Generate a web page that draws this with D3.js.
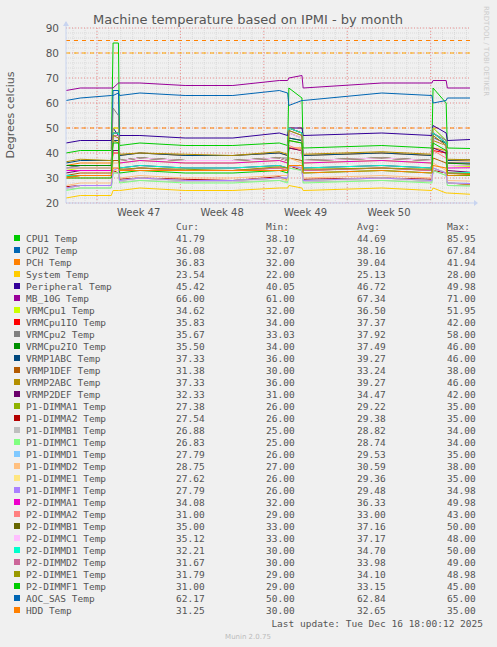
<!DOCTYPE html>
<html>
<head>
<meta charset="utf-8">
<script src="https://cdn.jsdelivr.net/npm/d3@7"></script>
<style>
body { margin: 0; background: #f0f0f0; }
text { font-family: "DejaVu Sans", sans-serif; }
.mono { font-family: "DejaVu Sans Mono", monospace; font-size: 9.5px; fill: #555; }
</style>
</head>
<body>
<script>
// time points in days from left edge of graph
var days = [0,1.2,3.8,3.95,4.4,4.5,6.2,10,14,17.9,18.6,18.7,19.8,19.9,26.5,30.7,30.8,31.9,32.0,33.9];

var names = ["CPU1 Temp","CPU2 Temp","PCH Temp","System Temp","Peripheral Temp","MB_10G Temp",
  "VRMCpu1 Temp","VRMCpu1IO Temp","VRMCpu2 Temp","VRMCpu2IO Temp","VRMP1ABC Temp","VRMP1DEF Temp",
  "VRMP2ABC Temp","VRMP2DEF Temp","P1-DIMMA1 Temp","P1-DIMMA2 Temp","P1-DIMMB1 Temp","P1-DIMMC1 Temp",
  "P1-DIMMD1 Temp","P1-DIMMD2 Temp","P1-DIMME1 Temp","P1-DIMMF1 Temp","P2-DIMMA1 Temp","P2-DIMMA2 Temp",
  "P2-DIMMB1 Temp","P2-DIMMC1 Temp","P2-DIMMD1 Temp","P2-DIMMD2 Temp","P2-DIMME1 Temp","P2-DIMMF1 Temp",
  "AOC_SAS Temp","HDD Temp"];

var colors = ["#00cc00","#0066b3","#ff8000","#ffcc00","#330099","#990099","#ccff00","#ff0000","#808080",
  "#008f00","#00487d","#b35a00","#b38f00","#6b006b","#8fb300","#b30000","#bebebe","#80ff80","#80c9ff",
  "#ffc080","#ffe680","#aa80ff","#ee00cc","#ff8080","#666600","#ffbfff","#00ffcc","#cc6699","#999900",
  "#00cc00","#0066b3","#ff8000"];

var cur = ["41.79","36.08","36.83","23.54","45.42","66.00","34.62","35.83","35.67","35.50","37.33","31.38","37.33","32.33","27.38","27.54","26.88","26.83","27.79","28.75","27.62","27.79","34.08","31.00","35.00","35.12","32.21","31.67","31.79","31.00","62.17","31.25"];
var mins = ["38.10","32.07","32.00","22.00","40.05","61.00","32.00","34.00","33.03","34.00","36.00","30.00","36.00","31.00","26.00","26.00","25.00","25.00","26.00","27.00","26.00","26.00","32.00","29.00","33.00","33.00","30.00","30.00","29.00","29.00","50.00","30.00"];
var avgs = ["44.69","38.16","39.04","25.13","46.72","67.34","36.50","37.37","37.92","37.49","39.27","33.24","39.27","34.47","29.22","29.38","28.82","28.74","29.53","30.59","29.36","29.48","36.33","33.00","37.16","37.17","34.70","33.98","34.10","33.15","62.84","32.65"];
var maxs = ["85.95","67.84","41.94","28.00","49.98","71.00","51.95","42.00","58.00","46.00","46.00","38.00","46.00","42.00","35.00","35.00","34.00","34.00","35.00","38.00","35.00","34.98","49.98","43.00","50.00","48.00","50.00","49.00","48.98","45.00","65.00","35.00"];

var values = [
  [40,41,41,84,84,43,44,43,43,44,43,66,62,42,43,42,66,60,42,41.8],
  [34,35,35,65,65,37,38,37,37,38,37,50,48,37,38,37,50,45,36,36],
  [35,36,36,48,48,39,40,39,39,40,39,42,42,39,40,39,42,41,37,36.8],
  [22,23,23,25,25,25,26,25,25,26,26,27,26,25,26,25,26,24,24,23.5],
  [44,45,45,50,47,47,47,46,46,48,47,50,50,47,48,47,51,48,45,45.4],
  [65,66,66,66,68,68,68,67,67,69,69,70,71,66,68,68,69,69,66,66],
  [33,34,34,50,50,36,37,36,36,37,36,50,48,36,37,36,50,45,35,34.6],
  [35,35,35,40,40,37,38,37,37,38,37,42,41,37,38,37,41,40,36,35.8],
  [34,35,35,58,55,37,38,37,37,38,38,48,46,37,38,37,48,45,36,35.7],
  [35,35,35,45,45,37,38,37,37,38,37,46,45,37,38,37,46,44,36,35.5],
  [36,37,37,45,45,39,40,39,39,40,39,46,45,39,40,39,46,44,37,37.3],
  [31,32,32,37,37,33,34,33,33,34,33,38,37,33,34,33,38,36,32,31.4],
  [36.5,37.5,37,45,44,39.5,40,39.5,39,40.5,39.5,45,44,39.5,40.5,39.5,45,43,37.5,37.3],
  [32,33,33,41,41,34,35,34,34,35,34,42,41,34,35,34,42,40,33,32.3],
  [26,27,27,33,33,29,30,29,29,30,29,35,34,29,30,29,34,32,28,27.4],
  [26.5,27,27,33,32,29.5,30,29.5,29,30.5,29.5,35,33,29.5,30,29.5,33,32,28,27.5],
  [25.5,26,26,32,32,28.5,29,28.5,28.5,29,28.5,34,33,28.5,29,28.5,33,31,27,26.9],
  [25,26,26,32,32,28,29,28,28,29,28,34,33,28,29,28,33,31,27,26.8],
  [26,27,27,33,33,29,30,29,29,30,30,35,34,29,30,29,34,32,28,27.8],
  [27,28,28,36,36,30,31,30,30,31,31,38,36,30,31,30,36,33,29,28.75],
  [26,27,27,33,33,29,30,29,29,30,29,35,34,29,30,29,34,32,28,27.6],
  [26,27,27,33,34,29,30,29,29,30,30,35,34,29,30,29,34,32,28,27.8],
  [33,33,33,48,48,36,37,36,36,37,36,50,48,36,37,36,48,44,34,34.1],
  [30,30,30,40,40,33,34,33,33,34,33,43,41,33,34,33,41,38,31,31],
  [34,34,34,48,48,37,38,37,37,38,37,50,48,37,38,37,48,44,35,35],
  [34,34,34,46,46,37,38,37,37,38,37,48,46,37,38,37,46,43,35,35.1],
  [31,31,31,48,48,34,35,34,34,35,34,50,48,34,35,34,48,44,32,32.2],
  [30,31,31,47,47,33,34,33,33,34,34,49,47,33,34,33,47,43,32,31.7],
  [30.5,31,31,47,46,33.5,34,33.5,33,34.5,34,49,47,33.5,34,33.5,47,43,32,31.8],
  [30,30,30,44,44,32,33,32,32,33,32,45,44,32,33,32,44,41,31,31],
  [61,62,63,63,64,63,64,63,63,65,64,59,61,61,64,63,60,61,62,62],
  [30,31,31,34,34,33,33,33,33,33,33,35,35,32,33,32,35,34,31,31.25]
];

var weekStarts = [2.6, 9.6, 16.6, 23.6, 30.6];
var weekLabels = ["Week 47","Week 48","Week 49","Week 50"];
var yTicks = [20,30,40,50,60,70,80,90];

var W = 497, H = 647;
var svg = d3.select("body").append("svg").attr("width", W).attr("height", H);
var x = d3.scaleLinear().domain([0, 33.9]).range([66, 470]);
var y = d3.scaleLinear().domain([20, 90]).range([203, 28]);

// minor grid
var g = svg.append("g");
g.selectAll(".hm").data(d3.range(20, 91, 2)).enter().append("line")
  .attr("x1", 66).attr("x2", 470).attr("y1", d => y(d)).attr("y2", d => y(d))
  .attr("stroke", "#ccc").attr("stroke-dasharray", "1,1").attr("stroke-width", 0.6);
g.selectAll(".vm").data(d3.range(-2, 33).map(d => d + 2.6).filter(d => d > 0 && d < 33.9)).enter().append("line")
  .attr("x1", d => x(d)).attr("x2", d => x(d)).attr("y1", 28).attr("y2", 203)
  .attr("stroke", "#ccc").attr("stroke-dasharray", "1,1").attr("stroke-width", 0.6);
// major grid
g.selectAll(".hM").data(yTicks).enter().append("line")
  .attr("x1", 66).attr("x2", 470).attr("y1", d => y(d)).attr("y2", d => y(d))
  .attr("stroke", "#f08080").attr("stroke-dasharray", "1,2").attr("stroke-width", 0.8);
g.selectAll(".vM").data(weekStarts).enter().append("line")
  .attr("x1", d => x(d)).attr("x2", d => x(d)).attr("y1", 28).attr("y2", 203)
  .attr("stroke", "#f08080").attr("stroke-dasharray", "1,2").attr("stroke-width", 0.8);

// warning lines
[[85, "#ff8000"], [80, "#ffaa00"], [50, "#ff8000"]].forEach(function(w) {
  svg.append("line").attr("x1", 66).attr("x2", 470).attr("y1", y(w[0])).attr("y2", y(w[0]))
    .attr("stroke", w[1]).attr("stroke-dasharray", "4,4").attr("stroke-width", 1);
});

var line = d3.line().x((d, i) => x(days[i])).y(d => y(d));
values.forEach(function(v, i) {
  svg.append("path").attr("d", line(v)).attr("fill", "none")
    .attr("stroke", colors[i]).attr("stroke-width", 1);
});

// axes
svg.append("line").attr("x1", 66).attr("x2", 474).attr("y1", 203).attr("y2", 203).attr("stroke", "#c8d4f0");
svg.append("line").attr("x1", 66).attr("x2", 66).attr("y1", 22).attr("y2", 203).attr("stroke", "#c8d4f0");
svg.append("path").attr("d", "M474,200 L478,203 L474,206 Z").attr("fill", "#c8d4f0");
svg.append("path").attr("d", "M63,26 L66,21 L69,26 Z").attr("fill", "#c8d4f0");

svg.selectAll(".yl").data(yTicks).enter().append("text")
  .attr("x", 59).attr("y", d => y(d) + 4).attr("text-anchor", "end")
  .attr("font-size", 10.5).attr("fill", "#555").text(d => d);
svg.selectAll(".xl").data(weekLabels).enter().append("text")
  .attr("x", (d, i) => x((weekStarts[i] + weekStarts[i + 1]) / 2)).attr("y", 216)
  .attr("text-anchor", "middle").attr("font-size", 10).attr("fill", "#555").text(d => d);

svg.append("text").attr("x", 248).attr("y", 24).attr("text-anchor", "middle")
  .attr("font-size", 13).attr("fill", "#555").text("Machine temperature based on IPMI - by month");
svg.append("text").attr("transform", "translate(14,115) rotate(-90)").attr("text-anchor", "middle")
  .attr("font-size", 11).attr("fill", "#555").text("Degrees celcius");
svg.append("text").attr("transform", "translate(484,6) rotate(90)")
  .attr("font-size", 7).attr("fill", "#ccc").text("RRDTOOL / TOBI OETIKER");

// legend
["Cur:", "Min:", "Avg:", "Max:"].forEach(function(h, i) {
  svg.append("text").attr("class", "mono").attr("x", [176, 266, 357, 447][i]).attr("y", 230).text(h);
});
names.forEach(function(n, i) {
  var yy = 242 + i * 12;
  svg.append("rect").attr("x", 14).attr("y", yy - 7).attr("width", 6).attr("height", 6).attr("fill", colors[i]);
  svg.append("text").attr("class", "mono").attr("x", 26).attr("y", yy).text(n);
  [cur, mins, avgs, maxs].forEach(function(col, j) {
    svg.append("text").attr("class", "mono").attr("x", [176, 266, 357, 447][j]).attr("y", yy).text(col[i]);
  });
});
svg.append("text").attr("class", "mono").attr("x", 483).attr("y", 627).attr("text-anchor", "end")
  .text("Last update: Tue Dec 16 18:00:12 2025");
svg.append("text").attr("x", 248).attr("y", 639).attr("text-anchor", "middle")
  .attr("font-size", 7).attr("fill", "#bbb").text("Munin 2.0.75");
</script>
</body>
</html>
